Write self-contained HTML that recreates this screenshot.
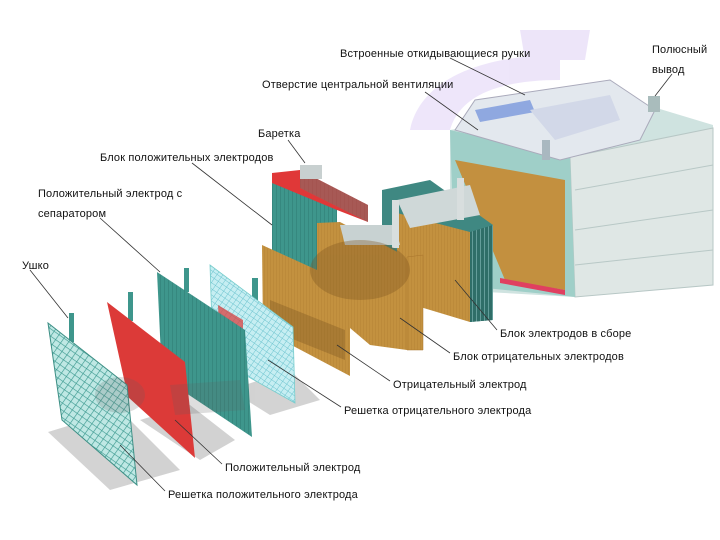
<!DOCTYPE html>
<html><head><meta charset="utf-8"><style>
html,body{margin:0;padding:0;background:#fff;}
svg{display:block}
text{font-family:"Liberation Sans","DejaVu Sans",sans-serif;font-size:11px;fill:#111;letter-spacing:0.15px}
</style></head><body>
<svg width="720" height="540" viewBox="0 0 720 540" xmlns="http://www.w3.org/2000/svg">
<defs>
<pattern id="grid" width="6" height="6" patternUnits="userSpaceOnUse" patternTransform="rotate(35)">
<rect width="6" height="6" fill="#bfe8e4"/><path d="M0 0H6M0 0V6" stroke="#3d9a90" stroke-width="1.3"/></pattern>
<pattern id="grid2" width="5" height="5" patternUnits="userSpaceOnUse" patternTransform="rotate(35)">
<rect width="5" height="5" fill="#c6eef2"/><path d="M0 0H5M0 0V5" stroke="#6ec4cf" stroke-width="1"/></pattern>
<pattern id="vlines" width="4" height="6" patternUnits="userSpaceOnUse">
<rect width="4" height="6" fill="#3e968c"/><path d="M0 0V6" stroke="#2f7a72" stroke-width="1"/></pattern>
<pattern id="brown" width="3" height="6" patternUnits="userSpaceOnUse">
<rect width="3" height="6" fill="#c3913f"/><path d="M0 0V6" stroke="#b07e30" stroke-width="0.7"/></pattern>
<pattern id="bstripe" width="4" height="6" patternUnits="userSpaceOnUse">
<rect width="4" height="6" fill="#2f6e68"/><path d="M0 0V6" stroke="#9cc" stroke-width="1"/></pattern>
</defs>
<rect width="720" height="540" fill="#fff"/>
<!-- ground shadows -->
<g fill="#c8c8c8" opacity="0.8">
<polygon points="48,432 120,410 180,470 110,490"/>
<polygon points="140,420 190,405 235,440 200,460"/>
<polygon points="230,390 290,370 320,400 270,415"/>
</g>
<!-- purple watermark -->
<g fill="#cdb6f0" opacity="0.35">
<path d="M410,130 C420,80 480,55 560,55 L560,80 C500,80 460,95 450,130 Z"/>
<path d="M520,30 L590,30 L585,60 L525,60 Z"/>
</g>
<!-- battery -->
<polygon points="450,130 630,100 713,125 713,285 575,297 450,290" fill="#cfe3e0"/>
<polygon points="570,157 713,128 713,285 575,297" fill="#dfe7e5" stroke="#b7c7c5"/>
<g stroke="#b8c8c6" stroke-width="1"><line x1="575" y1="190" x2="713" y2="165"/><line x1="575" y1="230" x2="713" y2="210"/><line x1="575" y1="265" x2="713" y2="250"/></g>
<polygon points="450,130 570,157 575,297 455,285" fill="#9fcfc8"/>
<polygon points="455,160 565,180 565,290 505,280" fill="#c3903f"/>
<polygon points="500,278 565,290 565,295 500,283" fill="#e04060"/>
<polygon points="455,130 475,100 610,80 655,110 640,140 560,160" fill="#e3e8ee" stroke="#aab"/>
<polygon points="475,110 530,100 535,112 480,122" fill="#8fa8e0"/>
<polygon points="530,110 610,95 620,120 555,140" fill="#d2d8e8"/>
<rect x="648" y="96" width="12" height="16" fill="#a9bcbc"/>
<rect x="542" y="140" width="8" height="20" fill="#a9b8c0"/>
<!-- assembled block -->
<polygon points="382,190 430,180 493,225 493,320 470,322 382,270" fill="#3f8882"/>
<polygon points="397,213 470,232 470,322 397,300" fill="url(#brown)"/>
<polygon points="470,232 493,225 493,320 470,322" fill="url(#bstripe)"/>
<polygon points="397,200 470,185 480,215 410,228" fill="#cfd8d8"/>
<rect x="392" y="200" width="7" height="42" fill="#d8dede"/>
<rect x="457" y="178" width="7" height="42" fill="#d8dede"/>
<!-- positive block -->
<polygon points="272,183 337,200 337,290 272,285" fill="url(#vlines)"/>
<polygon points="272,173 300,170 368,205 368,222 337,210 272,183" fill="#e03838"/>
<polygon points="300,170 368,205 368,222 300,188" fill="url(#vlines)" opacity="0.35"/>
<rect x="300" y="165" width="22" height="14" fill="#c8d0d0"/>
<!-- negative block -->
<polygon points="317,223 340,222 407,257 407,350 370,345 317,300" fill="url(#brown)"/>
<polygon points="407,257 423,255 423,350 407,350" fill="url(#brown)" stroke="#a8742c" stroke-width="0.5"/>
<polygon points="340,225 395,225 400,245 345,245" fill="#c8d2d2"/>
<rect x="392" y="222" width="7" height="26" fill="#d8dede"/>
<!-- negative electrode -->
<polygon points="262,245 350,285 350,376 263,330" fill="url(#brown)"/>
<g fill="#7a5420" opacity="0.35">
<ellipse cx="360" cy="270" rx="50" ry="30"/>
<polygon points="270,300 345,330 345,360 270,330"/>
</g>
<!-- grid negative -->
<rect x="252" y="278" width="6" height="22" fill="#3e968c"/>
<polygon points="210,265 293,327 295,403 213,357" fill="url(#grid2)" stroke="#7cc" stroke-width="0.8"/>
<polygon points="218,305 243,320 243,365 220,350" fill="#d84040" opacity="0.75"/>
<!-- separator -->
<rect x="184" y="268" width="5" height="24" fill="#3e968c"/>
<polygon points="157,272 245,330 252,437 162,377" fill="url(#vlines)"/>
<!-- red positive -->
<rect x="128" y="292" width="5" height="29" fill="#3e968c"/>
<polygon points="107,302 185,362 195,458 128,397" fill="#dc3a38"/>
<!-- grid positive -->
<rect x="69" y="313" width="5" height="29" fill="#3e968c"/>
<polygon points="48,323 127,385 137,485 62,420" fill="url(#grid)" stroke="#3d8f85" stroke-width="1"/>
<g fill="#606060" opacity="0.2">
<ellipse cx="120" cy="395" rx="25" ry="18"/>
<polygon points="170,385 240,380 245,410 175,415"/>
</g>
<!-- leader lines -->
<g stroke="#333" stroke-width="0.8" fill="none">
<line x1="450" y1="58" x2="525" y2="95"/>
<line x1="425" y1="92" x2="478" y2="130"/>
<line x1="672" y1="74" x2="655" y2="96"/>
<line x1="288" y1="140" x2="305" y2="163"/>
<line x1="192" y1="163" x2="272" y2="225"/>
<line x1="100" y1="218" x2="160" y2="272"/>
<line x1="30" y1="270" x2="68" y2="318"/>
<line x1="497" y1="330" x2="455" y2="280"/>
<line x1="450" y1="353" x2="400" y2="318"/>
<line x1="390" y1="381" x2="337" y2="345"/>
<line x1="341" y1="407" x2="268" y2="360"/>
<line x1="222" y1="464" x2="175" y2="420"/>
<line x1="165" y1="491" x2="120" y2="445"/>
</g>
<text x="340" y="57">Встроенные откидывающиеся ручки</text>
<text x="652" y="53">Полюсный</text>
<text x="652" y="73">вывод</text>
<text x="262" y="88">Отверстие центральной вентиляции</text>
<text x="258" y="137">Баретка</text>
<text x="100" y="161">Блок положительных электродов</text>
<text x="38" y="197">Положительный электрод с</text>
<text x="38" y="217">сепаратором</text>
<text x="22" y="269">Ушко</text>
<text x="500" y="337">Блок электродов в сборе</text>
<text x="453" y="360">Блок отрицательных электродов</text>
<text x="393" y="388">Отрицательный электрод</text>
<text x="344" y="414">Решетка отрицательного электрода</text>
<text x="225" y="471">Положительный электрод</text>
<text x="168" y="498">Решетка положительного электрода</text>
</svg>
</body></html>
